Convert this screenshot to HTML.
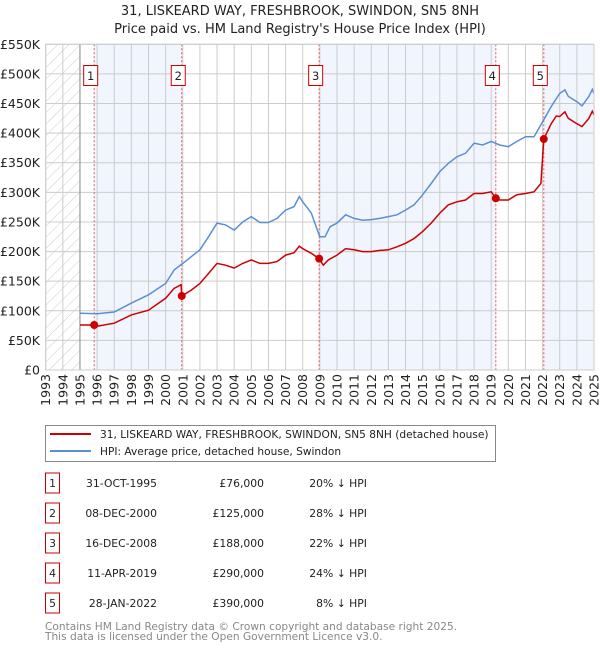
<!DOCTYPE html>
<html><head><meta charset="utf-8"><style>
body{margin:0;background:#fff;font-family:"DejaVu Sans","Liberation Sans",sans-serif;}
svg{display:block}
</style></head><body>
<svg id="chart" width="600" height="650" viewBox="0 0 600 650" xmlns="http://www.w3.org/2000/svg">
<defs><pattern id="hatch" width="8" height="8" patternUnits="userSpaceOnUse" patternTransform="rotate(45)"><line x1="0" y1="0" x2="0" y2="8" stroke="#cccccc" stroke-width="1"/></pattern></defs>
<text x="300" y="15" text-anchor="middle" font-size="13" fill="#222">31, LISKEARD WAY, FRESHBROOK, SWINDON, SN5 8NH</text>
<text x="300" y="33" text-anchor="middle" font-size="13" fill="#222">Price paid vs. HM Land Registry's House Price Index (HPI)</text>
<g id="plot"></g>
<g>
<rect x="45.5" y="425.5" width="450" height="36" fill="#fff" stroke="#888"/>
<line x1="50" y1="434" x2="91" y2="434" stroke="#cc0000" stroke-width="2"/>
<text x="100" y="438" font-size="10.6" fill="#222">31, LISKEARD WAY, FRESHBROOK, SWINDON, SN5 8NH (detached house)</text>
<line x1="50" y1="451" x2="91" y2="451" stroke="#5b8fd4" stroke-width="2"/>
<text x="100" y="455" font-size="10.6" fill="#222">HPI: Average price, detached house, Swindon</text>
</g>
<g id="table" font-size="10.8" fill="#222"></g>
<text x="45" y="630" font-size="10.6" fill="#888">Contains HM Land Registry data © Crown copyright and database right 2025.</text>
<text x="45" y="640" font-size="10.6" fill="#888">This data is licensed under the Open Government Licence v3.0.</text>
</svg>
<script>
const hpiYears=[1995,1996,1997,1998,1999,2000,2000.5,2001,2002,2002.5,2003,2003.5,2004,2004.5,2005,2005.5,2006,2006.5,2007,2007.5,2007.8,2008,2008.5,2009,2009.3,2009.6,2010,2010.5,2011,2011.5,2012,2012.5,2013,2013.5,2014,2014.5,2015,2015.5,2016,2016.5,2017,2017.5,2018,2018.5,2019,2019.5,2020,2020.5,2021,2021.5,2022,2022.5,2023,2023.3,2023.5,2024,2024.3,2024.7,2024.9,2025];
const hpiValues=[96,95,98,113,127,146,169,180,203,225,248,245,236,250,259,249,249,256,270,276,293,284,265,225,225,242,248,262,256,253,254,256,259,262,270,279,296,315,335,349,360,366,383,380,386,380,377,386,394,394,419,445,467,473,462,453,446,462,474,467];
const priceYears=[1995,1995.83,1996,1997,1998,1999,2000,2000.5,2000.9,2000.94,2001.5,2002,2002.5,2003,2003.5,2004,2004.5,2005,2005.5,2006,2006.5,2007,2007.5,2007.8,2008,2008.5,2008.96,2009.2,2009.5,2010,2010.5,2011,2011.5,2012,2012.5,2013,2013.5,2014,2014.5,2015,2015.5,2016,2016.5,2017,2017.5,2018,2018.5,2019,2019.27,2019.5,2020,2020.5,2021,2021.5,2021.9,2022.07,2022.5,2022.8,2023,2023.3,2023.5,2024,2024.3,2024.7,2024.9,2025];
const priceValues=[76,76,74,79,93,101,121,138,144,125,135,146,163,180,177,172,180,186,180,180,183,194,198,209,205,197,188,177,186,194,205,203,200,200,202,203,208,214,222,234,248,265,279,284,287,298,298,301,290,287,287,296,298,301,315,390,416,429,428,436,425,416,411,425,437,431];
const saleNums=["1","2","3","4","5"];
const saleYears=[1995.83,2000.94,2008.96,2019.27,2022.07];
const saleValues=[76,125,188,290,390];
const saleDates=["31-OCT-1995","08-DEC-2000","16-DEC-2008","11-APR-2019","28-JAN-2022"];
const salePrices=["£76,000","£125,000","£188,000","£290,000","£390,000"];
const saleDiffs=["20% ↓ HPI","28% ↓ HPI","22% ↓ HPI","24% ↓ HPI","8% ↓ HPI"];
const yTicks=[0,50,100,150,200,250,300,350,400,450,500,550];
const yTickLabels=["£0","£50K","£100K","£150K","£200K","£250K","£300K","£350K","£400K","£450K","£500K","£550K"];
const xStart=1993,xEnd=2025;
const X0=45.7,X1=594,Y0=370,Y1=44.3;
const x=v=>X0+(v-xStart)/(xEnd-xStart)*(X1-X0);
const y=v=>Y0-v/550*(Y0-Y1);
const NS="http://www.w3.org/2000/svg";
const plot=document.getElementById('plot');
function mk(tag,attrs,parent){const e=document.createElementNS(NS,tag);for(const k in attrs)e.setAttribute(k,attrs[k]);(parent||plot).appendChild(e);return e;}
const bandEdges=[saleYears[0],saleYears[1],saleYears[2],saleYears[3],saleYears[4],xEnd];
for(let i=0;i<bandEdges.length-1;i+=2){
 const r=mk('rect',{x:x(bandEdges[i]),y:Y1,width:x(bandEdges[i+1])-x(bandEdges[i]),height:Y0-Y1,fill:'#eef3fd',opacity:0.8});
 
 
}
const hr=mk('rect',{x:X0,y:Y1,width:x(1995)-X0,height:Y0-Y1,fill:'url(#hatch)'});


for(let yr=xStart;yr<=xEnd;yr++){
 const l=mk('line',{x1:x(yr),x2:x(yr),y1:Y1,y2:Y0,stroke:'#cccccc','stroke-width':1});
 
 
 const t=mk('text',{x:0,y:0,transform:`translate(${x(yr)+4.5},${Y0+4}) rotate(-90)`,'text-anchor':'end','font-size':12.5,fill:'#222'});
 t.textContent=yr;
 
 
}
yTicks.forEach((v,i)=>{
 const l=mk('line',{x1:X0,x2:X1,y1:y(v),y2:y(v),stroke:'#cccccc','stroke-width':1});
 
 
 const t=mk('text',{x:40,y:y(v)+4.5,'text-anchor':'end','font-size':12.5,fill:'#222'});
 t.textContent=yTickLabels[i];
 
 
});
const ax=mk('line',{x1:x(1995),x2:x(1995),y1:Y1,y2:Y0,stroke:'#888','stroke-width':1});


saleYears.forEach((sy,i)=>{
 const l=mk('line',{x1:x(sy),x2:x(sy),y1:Y1,y2:Y0,stroke:'#ee5555','stroke-width':1,'stroke-dasharray':'2,2'});
 
 
 const r=mk('rect',{x:x(sy)-10.5,y:65.5,width:14,height:20,fill:'#fff',stroke:'#cc0000'});
 
 
 const t=mk('text',{x:x(sy)-3.5,y:80,'text-anchor':'middle','font-size':11.5,fill:'#222'});
 t.textContent=saleNums[i];
 
 
});
function pts(xs,vs){return xs.map((a,i)=>x(a).toFixed(1)+','+y(vs[i]).toFixed(1)).join(' ');}
const hp=mk('polyline',{points:pts(hpiYears,hpiValues),fill:'none',stroke:'#5b8fd4','stroke-width':1.5});


const pp=mk('polyline',{points:pts(priceYears,priceValues),fill:'none',stroke:'#cc0000','stroke-width':1.5});


saleYears.forEach((sy,i)=>{
 const c=mk('circle',{cx:x(sy),cy:y(saleValues[i]),r:4,fill:'#cc0000'});
 
 
});
const br=mk('rect',{x:X0,y:Y1,width:X1-X0,height:Y0-Y1,fill:'none',stroke:'#cccccc'});


const tb=document.getElementById('table');
saleNums.forEach((n,i)=>{
 const cy=483+i*30;
 const r=mk('rect',{x:45.5,y:cy-10,width:14,height:20,fill:'#fff',stroke:'#cc0000'},tb);
 
 
 const cells=[[52.5,n,'middle'],[157,saleDates[i],'end'],[264,salePrices[i],'end'],[367,saleDiffs[i],'end']];
 cells.forEach(c=>{
  const t=mk('text',{x:c[0],y:cy+4,'text-anchor':c[2]},tb);
  t.textContent=c[1];
  
  
 });
});
</script>
</body></html>
